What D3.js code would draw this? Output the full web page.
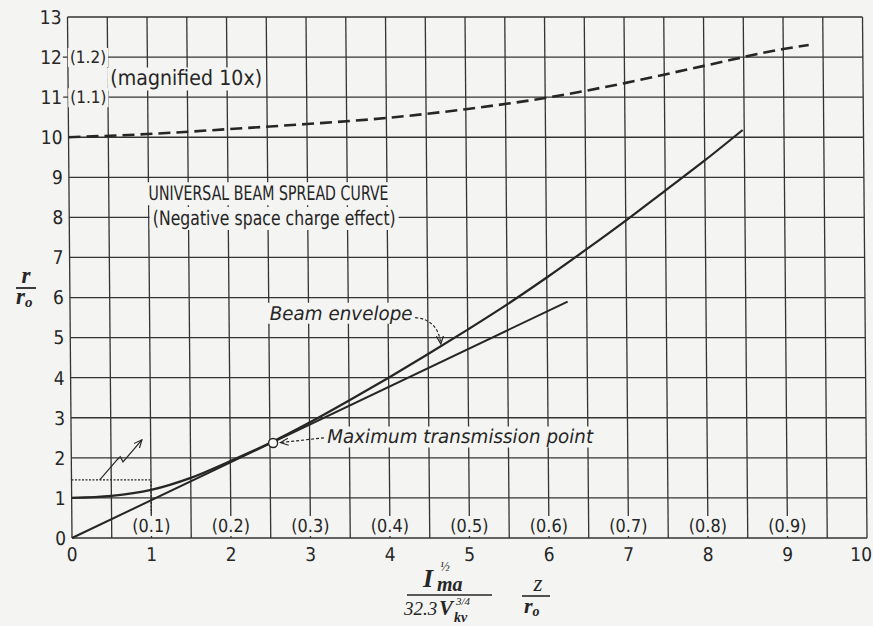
<!DOCTYPE html>
<html><head><meta charset="utf-8">
<script src="https://cdn.jsdelivr.net/npm/d3@7"></script>
<style>
html,body{margin:0;padding:0;background:#f4f4f2;}
svg{display:block;}
</style></head><body>
<svg id="c" width="873" height="626"></svg>
<script>
// ---- data ----
const curveX = [0, 0.5, 1, 1.5, 2, 2.5, 3, 3.5, 4, 4.5, 5, 5.5, 6, 6.5, 7, 7.5, 8, 8.48];
const curveY = [1.0, 1.05, 1.2, 1.5, 1.92, 2.37, 2.88, 3.43, 4.0, 4.59, 5.2, 5.83, 6.5, 7.2, 7.92, 8.67, 9.42, 10.18];
const lineX = [0, 6.26];
const lineY = [0, 5.9];
const magX = [0, 1, 2, 3, 4, 5, 6, 7, 8, 9, 9.32];
const magY = [10.0, 10.08, 10.2, 10.33, 10.48, 10.7, 10.98, 11.35, 11.78, 12.2, 12.3];
const xTicks = [0, 1, 2, 3, 4, 5, 6, 7, 8, 9, 10];
const yTicks = [0, 1, 2, 3, 4, 5, 6, 7, 8, 9, 10, 11, 12, 13];
const zLabelPos = [1, 2, 3, 4, 5, 6, 7, 8, 9];
const zLabels = ["(0.1)", "(0.2)", "(0.3)", "(0.4)", "(0.5)", "(0.6)", "(0.7)", "(0.8)", "(0.9)"];
const magLabelPos = [11, 12];
const magLabels = ["(1.1)", "(1.2)"];
const maxPoint = [2.54, 2.37];
const insetBox = [[0, 1.45], [1, 1.45], [1, 0.62]];
const zigzag = [[0.355, 1.45], [0.58, 1.96], [0.616, 2.03], [0.65, 1.9], [0.89, 2.45]];

const BG = "#f4f4f2", INK = "#262626";
const SANS = "'Liberation Sans Narrow','DejaVu Sans Condensed','Arial Narrow',sans-serif";
const SERIF = "'Liberation Serif','DejaVu Serif',serif";

const svg = d3.select("#c");
svg.append("rect").attr("width", 873).attr("height", 626).attr("fill", BG);

const x = d3.scaleLinear().domain([0, 10]).range([72, 867]);
const y = d3.scaleLinear().domain([0, 13]).range([538, 17]);

// slight skew of the scanned grid
const k = 4.5 / 521;
const g = svg.append("g")
  .attr("transform", `translate(${-538 * k},0) skewX(${Math.atan(k) * 180 / Math.PI})`);

const defs = svg.append("defs");
defs.append("marker").attr("id", "arr").attr("viewBox", "0 0 10 10")
  .attr("refX", 9).attr("refY", 5).attr("markerWidth", 9).attr("markerHeight", 9)
  .attr("markerUnits", "userSpaceOnUse").attr("orient", "auto")
  .append("path").attr("d", "M0,1 L9,5 L0,9").attr("fill", "none")
  .attr("stroke", INK).attr("stroke-width", 1.3);

// grid
const gridX = d3.range(0, 10.001, 0.5);
g.append("g").selectAll("line").data(gridX).join("line")
  .attr("x1", d => x(d)).attr("x2", d => x(d))
  .attr("y1", y(0)).attr("y2", y(13))
  .attr("stroke", "#333").attr("stroke-width", 1.3);
g.append("g").selectAll("line").data(yTicks).join("line")
  .attr("x1", d => (d === 11 || d === 12) ? x(0) - 5 : x(0)).attr("x2", x(10))
  .attr("y1", d => y(d)).attr("y2", d => y(d))
  .attr("stroke", "#333").attr("stroke-width", 1.3);

// axis tick labels
g.append("g").selectAll("text").data(yTicks).join("text")
  .attr("x", x(0) - 6).attr("y", d => y(d)).attr("dy", "0.36em")
  .attr("text-anchor", "end").attr("font-family", SANS).attr("font-size", 19)
  .attr("fill", INK).text(d => d);
g.append("g").selectAll("text").data(xTicks).join("text")
  .attr("x", d => x(d) - (d === 10 ? 6 : 0)).attr("y", 561)
  .attr("text-anchor", "middle").attr("font-family", SANS).attr("font-size", 19)
  .attr("fill", INK).text(d => d);

// labels with background patches (cover grid)
const labelLayer = g.append("g");
function label(txt, px, py, opts = {}) {
  const t = labelLayer.append("text")
    .attr("x", px).attr("y", py)
    .attr("text-anchor", opts.anchor || "start")
    .attr("font-family", SANS).attr("font-size", opts.size || 19)
    .attr("font-style", opts.italic ? "italic" : "normal")
    .attr("fill", INK).text(txt);
  if (opts.len) t.attr("textLength", opts.len).attr("lengthAdjust", "spacingAndGlyphs");
  const b = t.node().getBBox();
  const p = opts.pad === undefined ? 3 : opts.pad;
  labelLayer.insert("rect", "text")
    .attr("x", b.x - p).attr("y", b.y + 1).attr("width", b.width + 2 * p).attr("height", b.height - 1)
    .attr("fill", BG);
  return t;
}
magLabels.forEach((s, i) => label(s, x(0) + 2, y(magLabelPos[i]) + 6, { size: 17, pad: 2 }));
zLabels.forEach((s, i) => label(s, x(zLabelPos[i]), y(0.3) + 6, { size: 18, anchor: "middle" }));
label("(magnified 10x)", x(0.53), y(11.48) + 7.5, { size: 21, len: 152 });
label("UNIVERSAL BEAM SPREAD CURVE", x(1.0), y(8.6) + 7, { size: 20, len: 240 });
label("(Negative space charge effect)", x(1.05), y(8.0) + 7.5, { size: 20, len: 243 });
label("Beam envelope", x(2.51), y(5.61) + 6.5, { size: 19, italic: true, len: 143 });
label("Maximum transmission point", x(3.22), y(2.52) + 6.5, { size: 19, italic: true, len: 266 });

// inset (dotted box) and zigzag arrow
g.append("path").datum(insetBox)
  .attr("d", d3.line().x(d => x(d[0])).y(d => y(d[1])))
  .attr("fill", "none").attr("stroke", INK).attr("stroke-width", 1.3).attr("stroke-dasharray", "2,1.5");
g.append("path").datum(zigzag)
  .attr("d", d3.line().x(d => x(d[0])).y(d => y(d[1])))
  .attr("fill", "none").attr("stroke", INK).attr("stroke-width", 1.2)
  .attr("marker-end", "url(#arr)");

// curves
const pts = (xs, ys) => xs.map((v, i) => [v, ys[i]]);
const lineGen = d3.line().x(d => x(d[0])).y(d => y(d[1])).curve(d3.curveMonotoneX);
g.append("path").datum(pts(magX, magY)).attr("d", lineGen)
  .attr("fill", "none").attr("stroke", INK).attr("stroke-width", 2.6).attr("stroke-dasharray", "12,6");
g.append("path").datum(pts(lineX, lineY)).attr("d", d3.line().x(d => x(d[0])).y(d => y(d[1])))
  .attr("fill", "none").attr("stroke", INK).attr("stroke-width", 2);
g.append("path").datum(pts(curveX, curveY)).attr("d", lineGen)
  .attr("fill", "none").attr("stroke", INK).attr("stroke-width", 2.2);

// maximum transmission point marker
g.append("circle").attr("cx", x(maxPoint[0])).attr("cy", y(maxPoint[1])).attr("r", 4.5)
  .attr("fill", "#fbfbfa").attr("stroke", INK).attr("stroke-width", 1.4);

// annotation arrows
g.append("path")
  .attr("d", `M${x(3.18)},${y(2.5)} L${x(2.63)},${y(2.38)}`)
  .attr("fill", "none").attr("stroke", INK).attr("stroke-width", 1.2)
  .attr("stroke-dasharray", "3,2").attr("marker-end", "url(#arr)");
g.append("path")
  .attr("d", `M${x(4.34)},${y(5.5)} Q${x(4.63)},${y(5.45)} ${x(4.66)},${y(4.84)}`)
  .attr("fill", "none").attr("stroke", INK).attr("stroke-width", 1.2)
  .attr("stroke-dasharray", "3,2").attr("marker-end", "url(#arr)");

// y-axis title r / r_o
const T = svg.append("g").attr("font-family", SERIF).attr("font-style", "italic")
  .attr("font-weight", "bold").attr("fill", INK);
T.append("text").attr("x", 26).attr("y", 283).attr("text-anchor", "middle").attr("font-size", 23).text("r");
svg.append("line").attr("x1", 16).attr("x2", 36).attr("y1", 288).attr("y2", 288)
  .attr("stroke", INK).attr("stroke-width", 1.8);
const ro = T.append("text").attr("x", 16).attr("y", 304).attr("font-size", 23);
ro.append("tspan").text("r");
ro.append("tspan").attr("font-size", 15).attr("dy", 3).text("o");

// x-axis title: numerator I_ma^(1/2)
const num = T.append("text").attr("x", 423).attr("y", 587).attr("font-size", 26);
num.append("tspan").text("I");
num.append("tspan").attr("x", 440).attr("dy", -16).attr("font-size", 13).attr("font-weight", "normal").text("½");
num.append("tspan").attr("x", 437).attr("dy", 20).attr("font-size", 20).text("ma");
svg.append("line").attr("x1", 407).attr("x2", 492).attr("y1", 595).attr("y2", 595)
  .attr("stroke", INK).attr("stroke-width", 1.6);
// denominator 32.3 V_kv^(3/4)
const den = T.append("text").attr("x", 404).attr("y", 615).attr("font-size", 19);
den.append("tspan").attr("font-weight", "normal").text("32.3");
den.append("tspan").attr("x", 439).attr("font-size", 21).text("V");
den.append("tspan").attr("x", 456).attr("dy", -10).attr("font-size", 11).attr("font-weight", "normal").text("3/4");
den.append("tspan").attr("x", 454).attr("dy", 17).attr("font-size", 14).text("kv");
T.append("text").attr("x", 538).attr("y", 591).attr("text-anchor", "middle").attr("font-size", 23)
  .attr("font-weight", "normal").text("z");
svg.append("line").attr("x1", 522).attr("x2", 550).attr("y1", 596).attr("y2", 596)
  .attr("stroke", INK).attr("stroke-width", 1.6);
const ro2 = T.append("text").attr("x", 524).attr("y", 613).attr("font-size", 22);
ro2.append("tspan").text("r");
ro2.append("tspan").attr("font-size", 14).attr("dy", 3).text("o");
</script>
</body></html>
